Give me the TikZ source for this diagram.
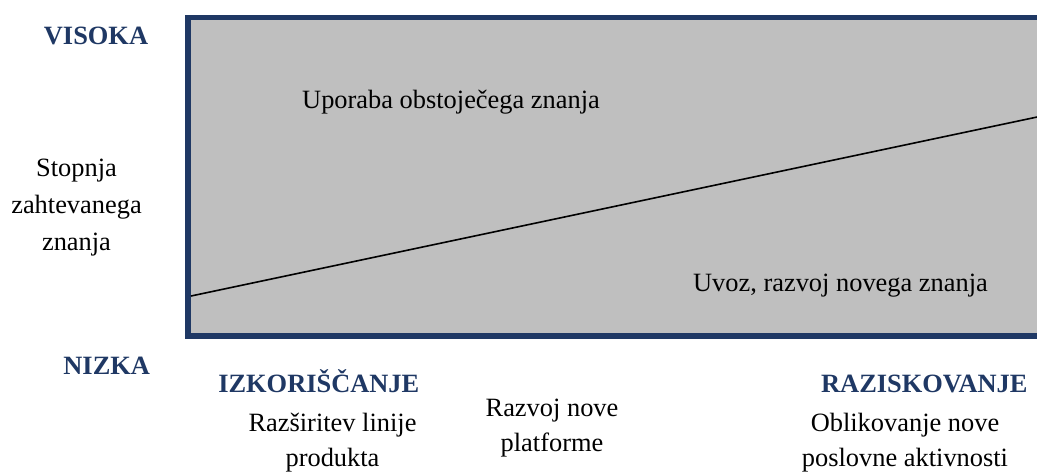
\documentclass[tikz,border=0pt]{standalone}
\usepackage{fontspec}
\setmainfont{Liberation Serif}
\definecolor{navy}{RGB}{31,56,100}
\definecolor{panel}{RGB}{191,191,191}
\newcommand\stk[1]{\begin{tabular}[t]{@{}c@{}}#1\end{tabular}}
\begin{document}
\begin{tikzpicture}[x=0.75pt,y=-0.75pt,
  txt/.style={inner sep=0pt,anchor=base,font=\fontsize{19.8}{27}\selectfont,text=black},
  head/.style={txt,font=\fontsize{19.8}{27}\selectfont\bfseries,text=navy},
  frame/.style={draw=navy,line width=4.2pt,fill=panel}]
\useasboundingbox (0,0) rectangle (1037,472);
\begin{scope}
\clip (0,0) rectangle (1037,472);
\draw[frame] (188,17.5) rectangle (1060,336);
\coordinate (lstart) at (191,296);
\coordinate (lend) at (1040,116.4);
\draw[line width=1.2pt,black] (lstart) -- (lend);
\end{scope}
\node[head] (visoka) at (96,44) {VISOKA};
\node[txt] (stopnja) at (76.5,176.7) {\fontsize{19.8}{27.75}\selectfont\stk{Stopnja\\zahtevanega\\znanja}};
\node[head] (nizka) at (106.7,374) {NIZKA};
\node[txt] (uporaba) at (451,108) {Uporaba obstoječega znanja};
\node[txt] (uvoz) at (840.5,291) {Uvoz, razvoj novega znanja};
\node[head] (izk) at (318.8,392.3) {IZKORIŠČANJE};
\node[txt] (razsir) at (332.5,431.7) {\fontsize{19.8}{26}\selectfont\stk{Razširitev linije\\produkta}};
\node[txt] (razvoj) at (552,416.7) {\fontsize{19.8}{26}\selectfont\stk{Razvoj nove\\platforme}};
\node[head] (razisk) at (924.3,392.3) {RAZISKOVANJE};
\node[txt] (oblik) at (905,431.7) {\fontsize{19.8}{26}\selectfont\stk{Oblikovanje nove\\poslovne aktivnosti}};
\end{tikzpicture}
\end{document}
